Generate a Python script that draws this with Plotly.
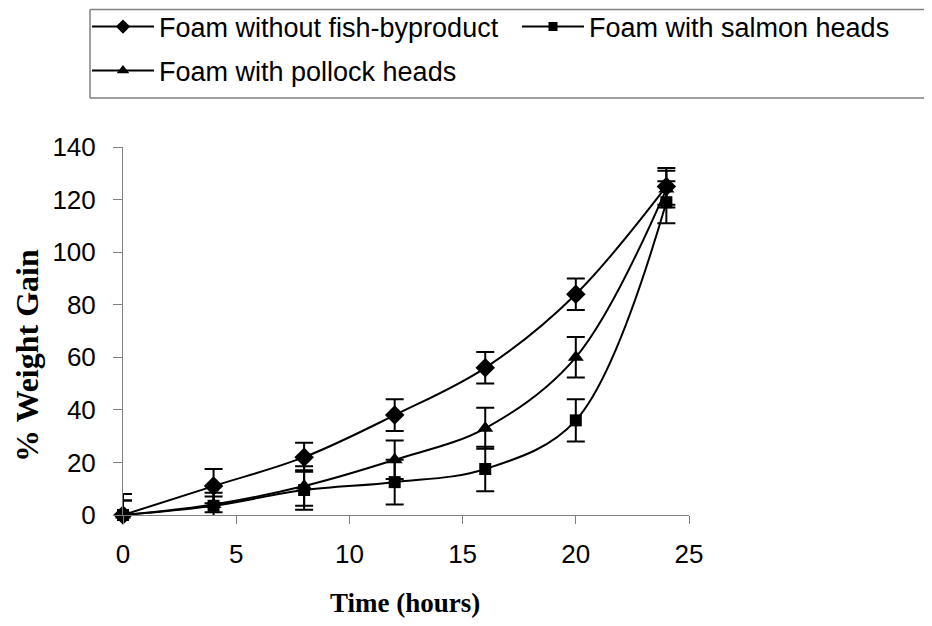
import plotly.graph_objects as go

# ---- data ----
time_h = [0, 4, 8, 12, 16, 20, 24]

no_fish = [0, 11, 22, 38, 56, 84, 125]
no_fish_err = [8, 6.5, 5.5, 6, 6, 6, 7]

salmon = [0, 3.5, 9.5, 12.5, 17.5, 36, 119]
salmon_err = [5.5, 5, 7.5, 8.5, 8.5, 8, 8]

pollock = [0, 4, 11, 21, 33, 60, 124]
pollock_err = [5.5, 3, 7.5, 7.3, 7.8, 7.7, 7]

names = ["Foam without fish-byproduct", "Foam with salmon heads", "Foam with pollock heads"]
x_ticks = [0, 5, 10, 15, 20, 25]
y_ticks = [0, 20, 40, 60, 80, 100, 120, 140]

# page body margin offsets the figure by 8px on every side
OFF = 8
W, H = 932 - 2 * OFF, 626 - 2 * OFF
# target screen positions of plot area
SX0, SX1, SY0, SY1 = 123, 689, 147, 515
L, R, T, B = SX0 - OFF, W - (SX1 - OFF), SY0 - OFF, H - (SY1 - OFF)
pw, ph = W - L - R, H - T - B

def px(sx):
    return (sx - OFF - L) / pw

def py(sy):
    return (H - B - (sy - OFF)) / ph

series = [
    (no_fish, no_fish_err, "diamond", 15, 11, names[0], "legend"),
    (salmon, salmon_err, "square", 12, 9, names[1], "legend2"),
    (pollock, pollock_err, "triangle-up", 14, 11, names[2], "legend3"),
]

fig = go.Figure()
for vals, err, sym, sz, lsz, nm, lg in series:
    fig.add_trace(go.Scatter(
        x=time_h, y=vals, name=nm, mode="lines+markers", showlegend=False,
        line=dict(color="black", width=2, shape="spline", smoothing=1.0),
        marker=dict(symbol=sym, size=sz, color="black"),
        error_y=dict(type="data", array=err, visible=True, color="black", thickness=2, width=9),
        cliponaxis=False,
    ))
    # legend entry with the smaller legend symbol
    fig.add_trace(go.Scatter(
        x=[None], y=[None], name=nm, mode="lines+markers", showlegend=True,
        line=dict(color="black", width=2),
        marker=dict(symbol=sym, size=lsz, color="black"),
        legend=lg,
    ))

font_sans = "Liberation Sans, Arial, sans-serif"
font_serif = "Liberation Serif, Times New Roman, serif"

leg_common = dict(font=dict(family=font_sans, size=27, color="black"),
                  bgcolor="rgba(0,0,0,0)", borderwidth=0, itemwidth=62,
                  xanchor="left", yanchor="middle", orientation="h")

box_line = dict(color="#808080", width=1.5)
bx0, bx1, by_top, by_bot = px(90), px(OFF + W), py(9.5), py(98)

fig.update_layout(
    width=W, height=H,
    margin=dict(l=L, r=R, t=T, b=B, autoexpand=False),
    paper_bgcolor="white", plot_bgcolor="white",
    showlegend=True,
    legend=dict(x=px(87), y=py(27), **leg_common),
    legend2=dict(x=px(517), y=py(27), **leg_common),
    legend3=dict(x=px(87), y=py(71), **leg_common),
    xaxis=dict(range=[0, 25], tickvals=x_ticks, ticktext=[str(v) for v in x_ticks],
               showgrid=False, zeroline=False, showline=True, linecolor="#808080", linewidth=1,
               ticks="outside", ticklen=8, tickcolor="#808080", tickwidth=1,
               tickfont=dict(family=font_sans, size=26, color="black"), ticklabelstandoff=8),
    yaxis=dict(range=[0, 140], tickvals=y_ticks, ticktext=[str(v) for v in y_ticks],
               showgrid=False, zeroline=False, showline=True, linecolor="#808080", linewidth=1,
               ticks="outside", ticklen=9, tickcolor="#808080", tickwidth=1,
               tickfont=dict(family=font_sans, size=26, color="black"), ticklabelstandoff=12),
    shapes=[
        dict(type="line", xref="paper", yref="paper", x0=bx0, x1=bx1, y0=by_top, y1=by_top, line=box_line),
        dict(type="line", xref="paper", yref="paper", x0=bx0, x1=bx1, y0=by_bot, y1=by_bot, line=box_line),
        dict(type="line", xref="paper", yref="paper", x0=bx0, x1=bx0, y0=by_bot, y1=by_top, line=box_line),
    ],
    annotations=[
        dict(text="<b>Time (hours)</b>", xref="paper", yref="paper", x=px(405), y=py(603),
             xanchor="center", yanchor="middle", showarrow=False,
             font=dict(family=font_serif, size=27, color="black")),
        dict(text="<b>% Weight Gain</b>", xref="paper", yref="paper", x=px(27), y=py(356),
             xanchor="center", yanchor="middle", showarrow=False, textangle=-90,
             font=dict(family=font_serif, size=32, color="black")),
    ],
)

fig.write_html("out.html")
